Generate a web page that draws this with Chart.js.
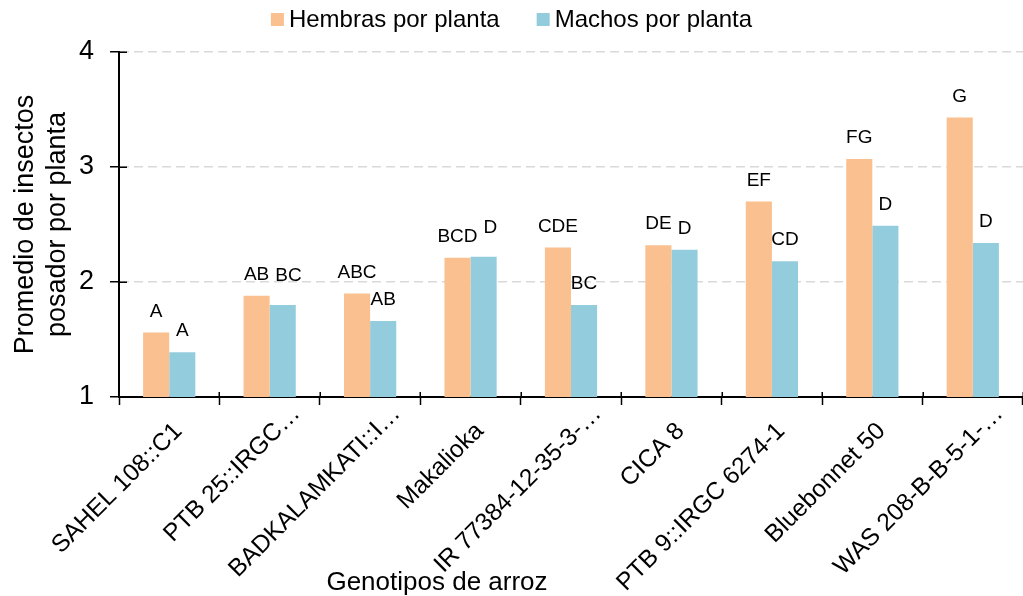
<!DOCTYPE html>
<html>
<head>
<meta charset="utf-8">
<script src="https://cdn.jsdelivr.net/npm/chart.js@4.4.1/dist/chart.umd.min.js"></script>
<style>
  html, body { margin: 0; padding: 0; background: #fff; }
  #wrap { width: 1023px; height: 596px; }
</style>
</head>
<body>
<div id="wrap"><canvas id="myChart" width="1023" height="596"></canvas></div>
<script>
// genotipos de arroz (eje x)
const genotipos = ['SAHEL 108::C1', 'PTB 25::IRGC\u2026', 'BADKALAMKATI::I\u2026', 'Makalioka',
    'IR 77384-12-35-3-\u2026', 'CICA 8', 'PTB 9::IRGC 6274-1', 'Bluebonnet 50', 'WAS 208-B-B-5-1-\u2026']

// promedios
const hembras = [1.56, 1.88, 1.90, 2.21, 2.30, 2.32, 2.70, 3.07, 3.43]
const machos = [1.39, 1.80, 1.66, 2.22, 1.80, 2.28, 2.18, 2.49, 2.34]

// letras de significancia sobre cada barra
const letrasHembras = ['A', 'AB', 'ABC', 'BCD', 'CDE', 'DE', 'EF', 'FG', 'G']
const letrasMachos = ['A', 'BC', 'AB', 'D', 'BC', 'D', 'CD', 'D', 'D']

const ticksY = [1, 2, 3, 4]

const fuente = "'Liberation Sans', Arial, sans-serif"

//plugin para escribir las letras encima de las barras
const letrasPlugin = {
    id: 'letras',
    afterDatasetsDraw(chart) {
        const ctx = chart.ctx
        ctx.save()
        ctx.font = '19px ' + fuente
        ctx.fillStyle = '#000'
        ctx.textAlign = 'center'
        ctx.textBaseline = 'alphabetic'
        const barH = chart.getDatasetMeta(0).data
        const barM = chart.getDatasetMeta(1).data
        barH.forEach(function (bh, j) {
            const bm = barM[j]
            const wH = ctx.measureText(letrasHembras[j]).width
            const wM = ctx.measureText(letrasMachos[j]).width
            let xM = bm.x
            let yM = bm.y - 16
            //si las letras se enciman (misma altura), se corre la de machos a la derecha y un poco arriba
            if (Math.abs(bh.y - bm.y) < 20) {
                const solape = (bh.x + wH / 2 + 6) - (xM - wM / 2)
                if (solape > 0) { xM += solape; yM -= 8 }
            }
            ctx.fillText(letrasHembras[j], bh.x, bh.y - 16)
            ctx.fillText(letrasMachos[j], xM, yM)
        })
        ctx.restore()
    }
}

//leyenda dibujada a mano para controlar espacios
const leyendaPlugin = {
    id: 'leyenda',
    afterDraw(chart) {
        const ctx = chart.ctx
        ctx.save()
        ctx.font = '24px ' + fuente
        ctx.textBaseline = 'middle'
        ctx.textAlign = 'left'
        const items = chart.data.datasets.map(ds => ({ txt: ds.label, color: ds.backgroundColor, w: ctx.measureText(ds.label).width }))
        let total = 0
        items.forEach((it, i) => { total += 13 + 5 + it.w + (i < items.length - 1 ? 37 : 0) })
        let x = chart.width / 2 - total / 2
        items.forEach(function (it) {
            ctx.fillStyle = it.color
            ctx.fillRect(x, 13, 13, 13)
            ctx.fillStyle = '#000'
            ctx.fillText(it.txt, x + 18, 20.5)
            x += 13 + 5 + it.w + 37
        })
        ctx.restore()
    }
}

//etiquetas del eje x giradas 45 grados, los "…" sobresalen como en excel
//tambien las marquitas de los ejes que cruzan hacia adentro
const etiquetasX = {
    id: 'etiquetasX',
    afterDraw(chart) {
        const ctx = chart.ctx
        const sx = chart.scales.x
        const sy = chart.scales.y
        ctx.save()
        ctx.font = '24.5px ' + fuente
        ctx.fillStyle = '#000'
        ctx.textBaseline = 'alphabetic'
        chart.data.labels.forEach(function (lab, i) {
            const x = sx.getPixelForValue(i)
            let base = lab
            let resto = ''
            if (lab.endsWith('\u2026')) { base = lab.slice(0, -1); resto = '\u2026' }
            ctx.save()
            ctx.translate(x + 14, sx.top + 35)
            ctx.rotate(-Math.PI / 4)
            ctx.textAlign = 'right'
            ctx.fillText(base, 0, 0)
            ctx.textAlign = 'left'
            ctx.fillText(resto, 0, 0)
            ctx.restore()
        })
        //marcas hacia adentro
        ctx.strokeStyle = '#000'
        ctx.lineWidth = 1.5
        ctx.beginPath()
        sy.ticks.forEach(function (t) {
            const y = Math.round(sy.getPixelForValue(t.value)) + 0.25
            ctx.moveTo(sy.right, y)
            ctx.lineTo(sy.right + 8, y)
        })
        for (let i = 0; i <= chart.data.labels.length; i++) {
            const x = Math.round(sx.getPixelForValue(i - 0.5)) + 0.25
            ctx.moveTo(x, sx.top)
            ctx.lineTo(x, sx.top - 5)
        }
        ctx.stroke()
        ctx.restore()
    }
}

//titulo del eje x, no va centrado en el eje en la original
const tituloX = {
    id: 'tituloX',
    afterDraw(chart) {
        const ctx = chart.ctx
        ctx.save()
        ctx.font = '26px ' + fuente
        ctx.fillStyle = '#000'
        ctx.textAlign = 'center'
        ctx.textBaseline = 'alphabetic'
        ctx.fillText('Genotipos de arroz', 437, 590)
        ctx.restore()
    }
}

const ctx = document.getElementById('myChart').getContext('2d')
let chart = new Chart(ctx, {
    type: 'bar',
    data: {
        labels: genotipos,
        datasets: [{
            label: 'Hembras por planta',
            data: hembras,
            backgroundColor: '#FAC090',
            categoryPercentage: 0.52,
            barPercentage: 1
        },
        {
            label: 'Machos por planta',
            data: machos,
            backgroundColor: '#93CDDD',
            categoryPercentage: 0.52,
            barPercentage: 1
        }]
    },
    options: {
        responsive: false,
        animation: false,
        layout: { padding: 0 },
        plugins: {
            legend: { display: false },
            tooltip: { enabled: false }
        },
        scales: {
            x: {
                grid: {
                    offset: true,
                    drawOnChartArea: false,
                    tickLength: 8,
                    tickColor: '#000',
                    tickWidth: 1.5
                },
                border: { color: '#000', width: 2 },
                ticks: { display: false },
                afterFit(scale) { scale.height = 199 }
            },
            y: {
                min: 1,
                max: 4,
                afterBuildTicks(scale) { scale.ticks = ticksY.map(v => ({ value: v })) },
                grid: {
                    color: (c) => c.tick && c.tick.value === 1 ? 'rgba(0,0,0,0)' : '#d9d9d9',
                    lineWidth: 1.5,
                    tickLength: 9,
                    tickColor: '#000',
                    tickWidth: 1.5,
                    tickBorderDash: []
                },
                border: { color: '#000', width: 2, dash: [9, 5] },
                ticks: {
                    color: '#000',
                    font: { family: fuente, size: 27 },
                    padding: 16
                },
                title: {
                    display: true,
                    text: ['Promedio de insectos', 'posador por planta'],
                    color: '#000',
                    font: { family: fuente, size: 27, lineHeight: 1.2 },
                    padding: { top: 9, bottom: 0 }
                },
                afterFit(scale) {
                    scale.width = 119
                    scale.paddingTop = 52
                }
            }
        }
    },
    plugins: [letrasPlugin, leyendaPlugin, etiquetasX, tituloX]
})
</script>
</body>
</html>
